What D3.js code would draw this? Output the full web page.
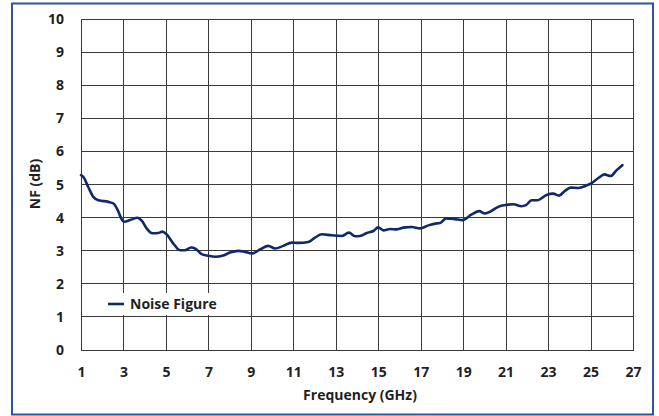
<!DOCTYPE html>
<html>
<head>
<meta charset="utf-8">
<script src="https://cdn.jsdelivr.net/npm/d3@7"></script>
<style>
  html, body { margin: 0; padding: 0; background: #fff; }
  svg { display: block; }
  text { font-family: "Open Sans", Lato, sans-serif; font-weight: 700; fill: #1f1f1f; }
</style>
</head>
<body>
<svg id="chart" width="659" height="416"></svg>
<script>
// Noise figure sweep, frequency in GHz and NF in dB
const freqGHz = [1.0, 1.1, 1.34, 1.58, 1.82, 2.29, 2.53, 2.73, 2.92, 3.04, 3.31, 3.67, 3.86, 4.09, 4.36, 4.64, 4.83, 5.03, 5.35, 5.66, 5.9, 6.18, 6.4, 6.68, 7.0, 7.31, 7.7, 8.02, 8.41, 8.72, 9.05, 9.43, 9.82, 10.14, 10.53, 10.93, 11.24, 11.71, 12.02, 12.34, 12.81, 13.28, 13.62, 13.91, 14.14, 14.46, 14.77, 15.0, 15.24, 15.56, 15.87, 16.26, 16.58, 16.97, 17.36, 17.76, 17.91, 18.2, 18.61, 18.97, 19.4, 19.76, 20.02, 20.34, 20.65, 21.05, 21.36, 21.75, 21.96, 22.22, 22.49, 22.93, 23.24, 23.52, 23.79, 24.06, 24.42, 24.82, 25.05, 25.37, 25.65, 25.95, 26.23, 26.5];
const noiseFigure = [5.27, 5.22, 4.91, 4.61, 4.51, 4.46, 4.41, 4.21, 3.93, 3.86, 3.91, 3.98, 3.89, 3.66, 3.51, 3.52, 3.56, 3.48, 3.20, 3.00, 3.00, 3.08, 3.04, 2.88, 2.83, 2.80, 2.84, 2.93, 2.98, 2.95, 2.90, 3.02, 3.13, 3.05, 3.13, 3.23, 3.22, 3.25, 3.38, 3.48, 3.45, 3.43, 3.53, 3.42, 3.43, 3.52, 3.58, 3.69, 3.60, 3.64, 3.63, 3.69, 3.70, 3.66, 3.75, 3.81, 3.82, 3.96, 3.94, 3.91, 4.08, 4.18, 4.11, 4.19, 4.31, 4.37, 4.39, 4.33, 4.36, 4.51, 4.51, 4.67, 4.71, 4.65, 4.79, 4.89, 4.88, 4.96, 5.03, 5.18, 5.29, 5.24, 5.42, 5.57];
const xTicks = [1, 3, 5, 7, 9, 11, 13, 15, 17, 19, 21, 23, 25, 27];
const yTicks = [0, 1, 2, 3, 4, 5, 6, 7, 8, 9, 10];
const seriesName = "Noise Figure";
const xTitle = "Frequency (GHz)";
const yTitle = "NF (dB)";

const svg = d3.select("#chart");
const plot = { left: 81, right: 633, top: 18.5, bottom: 349.5 };

const x = d3.scaleLinear().domain([1, 27]).range([plot.left, plot.right]);
const y = d3.scaleLinear().domain([0, 10]).range([plot.bottom, plot.top]);
const snap = v => Math.round(v) + 0.5;
const FONT = '"Open Sans", Lato, sans-serif';

// outer frame
svg.append("rect")
  .attr("x", 12).attr("y", 3.5)
  .attr("width", 641).attr("height", 411)
  .attr("fill", "#fff")
  .attr("stroke", "#2f5597")
  .attr("stroke-width", 2);

// grid
const grid = svg.append("g").attr("stroke", "#3a3a3a").attr("stroke-width", 1).attr("shape-rendering", "crispEdges");
grid.selectAll("line.v").data(xTicks).join("line")
  .attr("x1", d => snap(x(d))).attr("x2", d => snap(x(d)))
  .attr("y1", plot.top).attr("y2", plot.bottom);
grid.selectAll("line.h").data(yTicks).join("line")
  .attr("y1", d => snap(y(d))).attr("y2", d => snap(y(d)))
  .attr("x1", plot.left).attr("x2", plot.right + 1);

// tick labels via d3 axes (domain and tick lines removed)
const xAxis = svg.append("g")
  .attr("transform", `translate(0,${plot.bottom + 27})`)
  .call(d3.axisBottom(x).tickValues(xTicks).tickSize(0).tickFormat(d3.format("d")));
xAxis.select(".domain").remove();
xAxis.selectAll("text").attr("dy", 0).attr("y", 0)
  .style("font-size", "14px").style("font-family", FONT).style("font-weight", 700).attr("fill", "#1f1f1f");

const yAxis = svg.append("g")
  .attr("transform", `translate(${plot.left - 17},0)`)
  .call(d3.axisLeft(y).tickValues(yTicks).tickSize(0).tickFormat(d3.format("d")));
yAxis.select(".domain").remove();
yAxis.selectAll("text").attr("x", 0).attr("dy", "0.36em")
  .style("font-size", "14px").style("font-family", FONT).style("font-weight", 700).attr("fill", "#1f1f1f");

// axis titles
svg.append("text")
  .attr("x", (plot.left + plot.right) / 2 + 3).attr("y", 400)
  .attr("text-anchor", "middle").style("font-size", "14px")
  .text(xTitle);
svg.append("text")
  .attr("transform", `translate(40,${(plot.top + plot.bottom) / 2}) rotate(-90)`)
  .attr("text-anchor", "middle").style("font-size", "14px")
  .text(yTitle);

// series
const pts = freqGHz.map((f, i) => [f, noiseFigure[i]]);
const line = d3.line().x(d => x(d[0])).y(d => y(d[1])).curve(d3.curveMonotoneX);
svg.append("path")
  .datum(pts)
  .attr("d", line)
  .attr("fill", "none")
  .attr("stroke", "#0e2a6b")
  .attr("stroke-width", 2.6)
  .attr("stroke-linejoin", "round")
  .attr("stroke-linecap", "round");

// legend
const lg = svg.append("g");
lg.append("rect").attr("x", 105).attr("y", 293).attr("width", 117).attr("height", 22).attr("fill", "#fff");
lg.append("line").attr("x1", 108).attr("x2", 124).attr("y1", 304).attr("y2", 304)
  .attr("stroke", "#0e2a6b").attr("stroke-width", 2.6);
lg.append("text").attr("x", 130).attr("y", 309).style("font-size", "14px").text(seriesName);
</script>
</body>
</html>
